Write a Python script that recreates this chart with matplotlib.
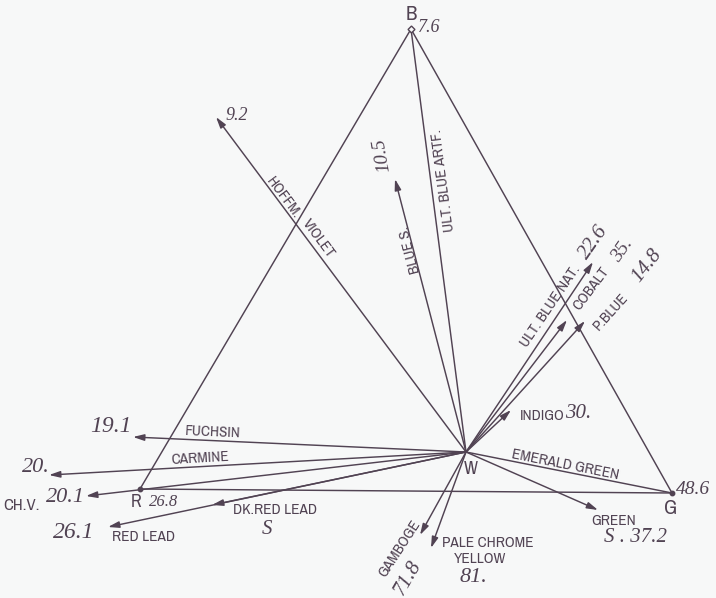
import matplotlib
matplotlib.use("Agg")
import matplotlib.pyplot as plt
from matplotlib import font_manager as fm

# Corners of the colour triangle and the white point (chart units, y grows downward)
vertex_names = ["B", "R", "G", "W"]
vertex_x = [411, 140, 672, 466]
vertex_y = [29, 489, 493, 452]

# Pigments: where each ray from W ends
pigments = ["HOFFM. VIOLET", "BLUE S.", "ULT. BLUE ARTF.", "ULT. BLUE NAT.",
            "COBALT", "P.BLUE", "INDIGO", "EMERALD GREEN", "GREEN",
            "PALE CHROME YELLOW", "GAMBOGE", "RED LEAD", "DK.RED LEAD",
            "CH.V.", "CARMINE", "FUCHSIN"]
pigment_x = [216, 395, 411, 593, 567, 585, 511, 672, 598, 431, 420, 108, 212, 86, 49, 133]
pigment_y = [117, 179, 29, 262, 320, 321, 410, 493, 510, 548, 535, 527, 505, 496, 475, 437]
# luminosity figure written beside each pigment
luminosity = ["9.2", "10.5", "7.6", "22.6", "35.", "14.8", "30.", "48.6", "S . 37.2",
              "81.", "71.8", "26.1", "S", "20.1", "20.", "19.1"]
red_value = "26.8"

INK = "#514353"
BG = "#f7f8f8"
SERIF = ["Liberation Serif", "DejaVu Serif"]


def narrow_sans():
    """Pick a condensed sans face for the lettering, if one is installed."""
    entries = fm.fontManager.ttflist
    for f in entries:
        if "Narrow" in f.name or "Condensed" in f.name:
            return f.name, "normal"
    for f in entries:
        if f.name == "DejaVu Sans" and str(f.stretch) in ("condensed", "semi-condensed"):
            return "DejaVu Sans", "condensed"
    return "Roboto", "normal"


SANS_NAME, SANS_STRETCH = narrow_sans()
SANS = [SANS_NAME, "DejaVu Sans"]

fig = plt.figure(figsize=(7.16, 5.98), dpi=100, facecolor=BG)
ax = fig.add_axes([0, 0, 1, 1])
ax.set_facecolor(BG)
ax.set_xlim(0, 716)
ax.set_ylim(598, 0)
ax.axis("off")

vx = dict(zip(vertex_names, vertex_x))
vy = dict(zip(vertex_names, vertex_y))
LW = 1.05

# triangle sides
for a, b in [("B", "R"), ("B", "G"), ("R", "G")]:
    ax.plot([vx[a], vx[b]], [vy[a], vy[b]], color=INK, lw=LW, solid_capstyle="round")

# rays from the white point
no_head = {"ULT. BLUE ARTF.", "EMERALD GREEN"}
for name, px, py in zip(pigments, pigment_x, pigment_y):
    if name in no_head:
        ax.plot([vx["W"], px], [vy["W"], py], color=INK, lw=LW)
    else:
        ax.annotate("", xy=(px, py), xytext=(vx["W"], vy["W"]),
                    arrowprops=dict(arrowstyle="-|>,head_length=0.55,head_width=0.16",
                                    color=INK, lw=LW, shrinkA=0, shrinkB=0,
                                    mutation_scale=12))

# corner dots
ax.plot([vx["R"], vx["G"]], [vy["R"], vy["G"]], "o", ms=3.2, color=INK)
ax.plot([vx["B"]], [vy["B"]], "D", ms=3.5, mfc=BG, mec=INK, mew=1.0)

# corner letters
corner_layout = {"B": (411, 14, 15), "R": (136, 502, 13), "G": (671, 508, 15), "W": (471, 469, 13)}
for name, (tx, ty, fs) in corner_layout.items():
    ax.text(tx, ty, name, color=INK, fontsize=fs, family=SANS, fontstretch=SANS_STRETCH,
            weight="bold", ha="center", va="center")
ax.text(164, 502, red_value, color=INK, fontsize=12, family=SERIF, style="italic",
        ha="center", va="center")

# pigment names: (text, x, y, rotation)
name_layout = {
    "HOFFM. VIOLET": [("HOFFM.", 283, 198, -53.3), ("VIOLET", 318, 238, -53.3)],
    "BLUE S.": [("BLUE S.", 410, 250, 104.6)],
    "ULT. BLUE ARTF.": [("ULT. BLUE ARTF.", 443, 180, 97.4)],
    "ULT. BLUE NAT.": [("ULT. BLUE NAT.", 550, 306, 56)],
    "COBALT": [("COBALT", 591, 289, 53)],
    "P.BLUE": [("P.BLUE", 611, 312, 48)],
    "INDIGO": [("INDIGO", 542, 416, 0)],
    "EMERALD GREEN": [("EMERALD GREEN", 565, 465, -11.3)],
    "GREEN": [("GREEN", 614, 521, 0)],
    "PALE CHROME YELLOW": [("PALE CHROME", 488, 543, 0), ("YELLOW", 480, 559, 0)],
    "GAMBOGE": [("GAMBOGE", 400, 549, 57)],
    "RED LEAD": [("RED LEAD", 143, 537, 0)],
    "DK.RED LEAD": [("DK.RED LEAD", 275, 510, 0)],
    "CH.V.": [("CH.V.", 22, 505, 0)],
    "CARMINE": [("CARMINE", 200, 458, 3.2)],
    "FUCHSIN": [("FUCHSIN", 213, 432, -2.5)],
}
for name in pigments:
    for txt, tx, ty, rot in name_layout[name]:
        fs = 12 if txt == "CH.V." else 11
        ax.text(tx, ty, txt, color=INK, fontsize=fs, family=SANS, fontstretch=SANS_STRETCH,
                ha="center", va="center", rotation=rot, rotation_mode="anchor")

# luminosity figures: (x, y, rotation, size)
value_layout = {
    "HOFFM. VIOLET": (237, 115, 0, 13),
    "BLUE S.": (382, 155, 100, 14),
    "ULT. BLUE ARTF.": (429, 28, 0, 13),
    "ULT. BLUE NAT.": (594, 242, 55, 15),
    "COBALT": (622, 250, 55, 14),
    "P.BLUE": (647, 266, 52, 15),
    "INDIGO": (578, 414, 0, 15),
    "EMERALD GREEN": (693, 489, 0, 14),
    "GREEN": (636, 537, 0, 15),
    "PALE CHROME YELLOW": (473, 577, 0, 16),
    "GAMBOGE": (408, 578, 60, 15),
    "RED LEAD": (74, 532, 0, 17),
    "DK.RED LEAD": (267, 530, 0, 15),
    "CH.V.": (65, 497, 0, 16),
    "CARMINE": (36, 467, 0, 16),
    "FUCHSIN": (111, 426, 0, 17),
}
for name, val in zip(pigments, luminosity):
    tx, ty, rot, fs = value_layout[name]
    ax.text(tx, ty, val, color=INK, fontsize=fs, family=SERIF, style="italic",
            ha="center", va="center", rotation=rot, rotation_mode="anchor")

fig.savefig("out.png", dpi=100, facecolor=BG)
